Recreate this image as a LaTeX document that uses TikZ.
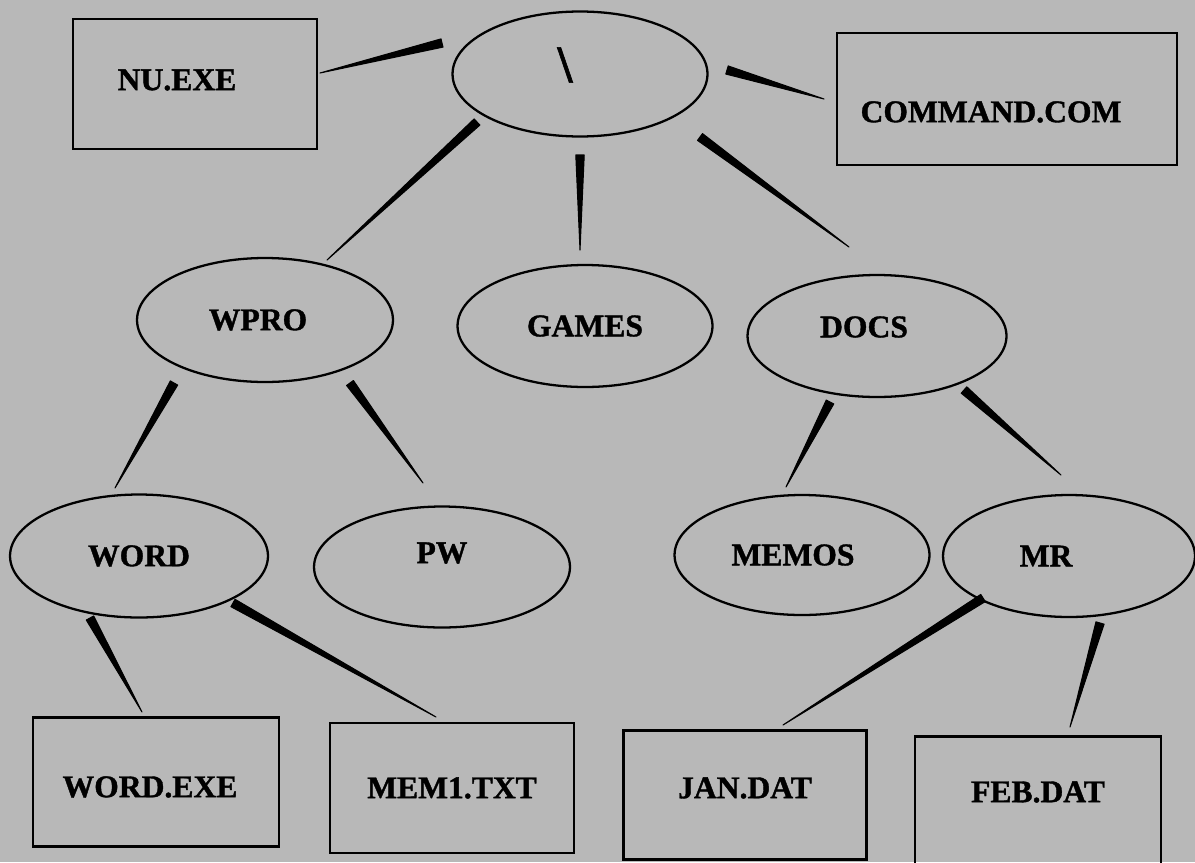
\documentclass[tikz,border=0pt]{standalone}
\usepackage{fontspec}
\setmainfont{Liberation Serif}[BoldFeatures={FakeBold=1.2}]
\usetikzlibrary{shapes.geometric, calc}

\tikzset{
    dirnode/.style={draw, ellipse, line width=1.3pt, inner sep=0pt, minimum width=5.1cm, minimum height=2.45cm},
    filenode/.style={draw, rectangle, line width=1.5pt, inner sep=0pt, minimum width=4.88cm, minimum height=2.6cm},
    needle/.style={fill=black, draw=black, line width=0.6pt, line join=round,
        to path={($(\tikztostart)!2.4pt!90:(\tikztotarget)$) -- (\tikztotarget)
            -- ($(\tikztostart)!2.4pt!-90:(\tikztotarget)$) -- cycle}}
}

\begin{document}
\begin{tikzpicture}[x=0.02cm, y=-0.02cm, font=\bfseries\fontsize{18}{20}\selectfont]
    % grey page
    \fill[black!28] (0,0) rectangle (1195,862);
    \useasboundingbox (0,0) rectangle (1195,862);

    % root directory and the two files beside it
    \node[dirnode, minimum height=2.5cm,
        label={[xshift=-0.3cm, yshift=0.18cm]center:\fontsize{30}{32}\selectfont\textbackslash}] (root) at (580,74) {};
    \node[filenode, label={[xshift=-0.36cm, yshift=0.08cm]center:NU.EXE}] (nuexe) at (195,84) {};
    \node[filenode, minimum width=6.8cm, minimum height=2.64cm,
        label={[xshift=-0.32cm, yshift=-0.26cm]center:COMMAND.COM}] (command) at (1007,99) {};

    % first level
    \node[dirnode, minimum width=5.12cm, minimum height=2.48cm,
        label={[xshift=-0.14cm]center:WPRO}] (wpro) at (265,320) {};
    \node[dirnode, minimum height=2.44cm, label={center:GAMES}] (games) at (585,326) {};
    \node[dirnode, minimum width=5.18cm, minimum height=2.44cm,
        label={[xshift=-0.26cm, yshift=0.18cm]center:DOCS}] (docs) at (877,336) {};

    % second level
    \node[dirnode, minimum width=5.16cm, minimum height=2.46cm, label={center:WORD}] (word) at (139,556) {};
    \node[dirnode, minimum width=5.12cm, minimum height=2.42cm,
        label={[yshift=0.28cm]center:PW}] (pw) at (442,567) {};
    \node[dirnode, minimum height=2.4cm, label={[xshift=-0.18cm]center:MEMOS}] (memos) at (802,555) {};
    \node[dirnode, minimum width=5.04cm, minimum height=2.44cm,
        label={[xshift=-0.46cm]center:MR}] (mr) at (1069,556) {};

    % files at the bottom
    \node[filenode, minimum width=4.92cm, minimum height=2.58cm,
        label={[xshift=-0.12cm, yshift=-0.1cm]center:WORD.EXE}] (wordexe) at (156,782) {};
    \node[filenode, label={center:MEM1.TXT}] (memtxt) at (452,788) {};
    \node[filenode, minimum width=4.86cm, minimum height=2.58cm,
        label={[yshift=0.14cm]center:JAN.DAT}] (jandat) at (745,795) {};
    \node[filenode, minimum width=4.92cm, minimum height=2.58cm,
        label={[yshift=0.18cm]center:FEB.DAT}] (febdat) at (1038,801) {};

    % links, thick end at the parent
    \draw[needle] ($(root)+(-138,-31)$) to ($(nuexe)+(125,-11)$);
    \draw[needle] ($(root)+(147,-4)$) to ($(command)+(-183,0)$);
    \draw[needle] ($(root)+(-103,48)$) to ($(wpro)+(62,-60)$);
    \draw[needle] ($(root)+(0,81)$) to ($(games)+(-5,-76)$);
    \draw[needle] ($(root)+(120,63)$) to ($(docs)+(-28,-89)$);

    \draw[needle] ($(wpro)+(-91,63)$) to ($(word)+(-24,-68)$);
    \draw[needle] ($(wpro)+(85,63)$) to ($(pw)+(-19,-84)$);
    \draw[needle] ($(docs)+(-47,66)$) to ($(memos)+(-16,-68)$);
    \draw[needle] ($(docs)+(87,54)$) to ($(mr)+(-8,-81)$);

    \draw[needle] ($(word)+(-49,62)$) to ($(wordexe)+(-14,-70)$);
    \draw[needle] ($(word)+(94,47)$) to ($(memtxt)+(-16,-71)$);
    \draw[needle] ($(mr)+(-86,42)$) to ($(jandat)+(38,-70)$);
    \draw[needle] ($(mr)+(31,67)$) to ($(febdat)+(32,-74)$);
\end{tikzpicture}
\end{document}
